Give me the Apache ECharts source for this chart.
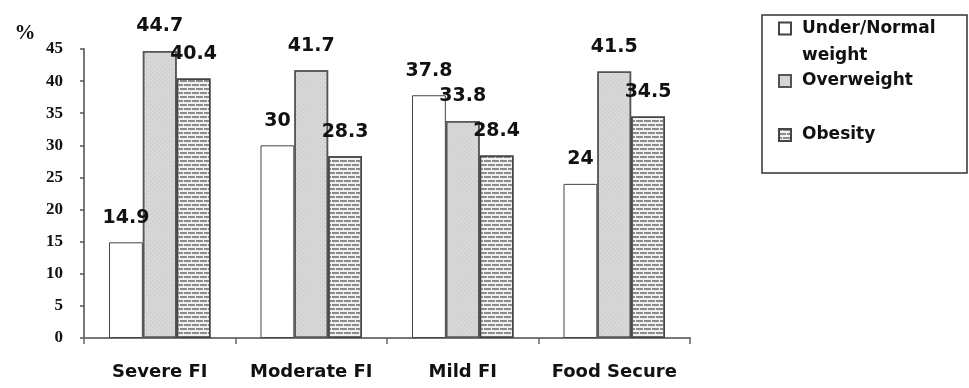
<!DOCTYPE html>
<html>
<head>
<meta charset="utf-8">
<script src="https://cdn.jsdelivr.net/npm/echarts@6/dist/echarts.min.js"></script>
<style>
  html, body { margin: 0; padding: 0; background: #fff; }
  #chart { width: 969px; height: 388px; }
</style>
</head>
<body>
<div id="chart"></div>
<script>
var categories = ['Severe FI', 'Moderate FI', 'Mild FI', 'Food Secure'];
var underNormal = [14.9, 30, 37.8, 24];
var overweight = [44.7, 41.7, 33.8, 41.5];
var obesity = [40.4, 28.3, 28.4, 34.5];
var seriesNames = ['Under/Normal weight', 'Overweight', 'Obesity'];
var yTicks = [0, 5, 10, 15, 20, 25, 30, 35, 40, 45];

var labelFont = { fontFamily: 'DejaVu Sans', fontWeight: 'bold', fontSize: 19, color: '#111' };
var legendFont = { fontFamily: 'DejaVu Sans', fontWeight: 'bold', fontSize: 17, color: '#111' };

function barLabel() {
    return Object.assign({ show: true, position: 'top', distance: 15 }, labelFont);
}

var myChart = echarts.init(document.getElementById('chart'));
myChart.setOption({
    animation: false,
    grid: { left: 84, right: 279, top: 49, bottom: 50 },
    xAxis: {
        type: 'category',
        data: categories,
        axisLine: { lineStyle: { color: '#777', width: 2 } },
        axisTick: { show: true, interval: 0, length: 6, lineStyle: { color: '#666', width: 1.5 } },
        axisLabel: { interval: 0, margin: 25, fontFamily: 'DejaVu Sans', fontWeight: 'bold', fontSize: 18, color: '#111' }
    },
    yAxis: {
        type: 'value',
        min: yTicks[0],
        max: yTicks[yTicks.length - 1],
        interval: 5,
        name: '%',
        nameLocation: 'end',
        nameGap: 5,
        nameTextStyle: { fontFamily: 'Liberation Serif', fontWeight: 'bold', fontSize: 21, color: '#111', padding: [0, 118, 0, 0] },
        splitLine: { show: false },
        axisLine: { show: true, lineStyle: { color: '#777', width: 2 } },
        axisTick: { show: true, length: 4, lineStyle: { color: '#555', width: 1.5 } },
        axisLabel: { margin: 21, fontFamily: 'Liberation Serif', fontWeight: 'bold', fontSize: 17, color: '#111' }
    },
    legend: [
        {
            data: [seriesNames[0]], left: 778, top: -12, padding: 0,
            icon: 'rect', itemWidth: 12, itemHeight: 12,
            formatter: function () { return '\nUnder/Normal\nweight'; },
            textStyle: Object.assign({ lineHeight: 27, padding: [0, 0, 0, 6] }, legendFont)
        },
        {
            data: [seriesNames[1]], left: 778, top: 71, padding: 0,
            icon: 'rect', itemWidth: 12, itemHeight: 12,
            textStyle: Object.assign({ lineHeight: 20, padding: [0, 0, 0, 6] }, legendFont)
        },
        {
            data: [seriesNames[2]], left: 778, top: 125, padding: 0,
            icon: 'rect', itemWidth: 12, itemHeight: 12,
            textStyle: Object.assign({ lineHeight: 20, padding: [0, 0, 0, 6] }, legendFont)
        }
    ],
    graphic: [{
        type: 'rect',
        shape: { x: 762, y: 15, width: 205, height: 158 },
        style: { fill: 'none', stroke: '#333', lineWidth: 1.5 }
    }],
    series: [
        {
            name: seriesNames[0], type: 'bar', data: underNormal,
            barGap: '0%', barCategoryGap: '33%',
            itemStyle: { color: '#ffffff', borderColor: '#444', borderWidth: 1 },
            label: barLabel()
        },
        {
            name: seriesNames[1], type: 'bar', data: overweight,
            itemStyle: {
                color: '#d8d8d8', borderColor: '#555', borderWidth: 1.5,
                decal: { symbol: 'rect', symbolSize: 1, color: '#c0c0c0', dashArrayX: [1, 2], dashArrayY: [1, 2], rotation: 0.785 }
            },
            label: barLabel()
        },
        {
            name: seriesNames[2], type: 'bar', data: obesity,
            itemStyle: {
                color: '#f2f2f2', borderColor: '#444', borderWidth: 1.5,
                decal: { symbol: 'rect', symbolSize: 1, color: '#8c8c8c', dashArrayX: [[7, 1], [3, 1, 4, 0]], dashArrayY: [1.3, 1.7] }
            },
            label: barLabel()
        }
    ]
});
</script>
</body>
</html>
